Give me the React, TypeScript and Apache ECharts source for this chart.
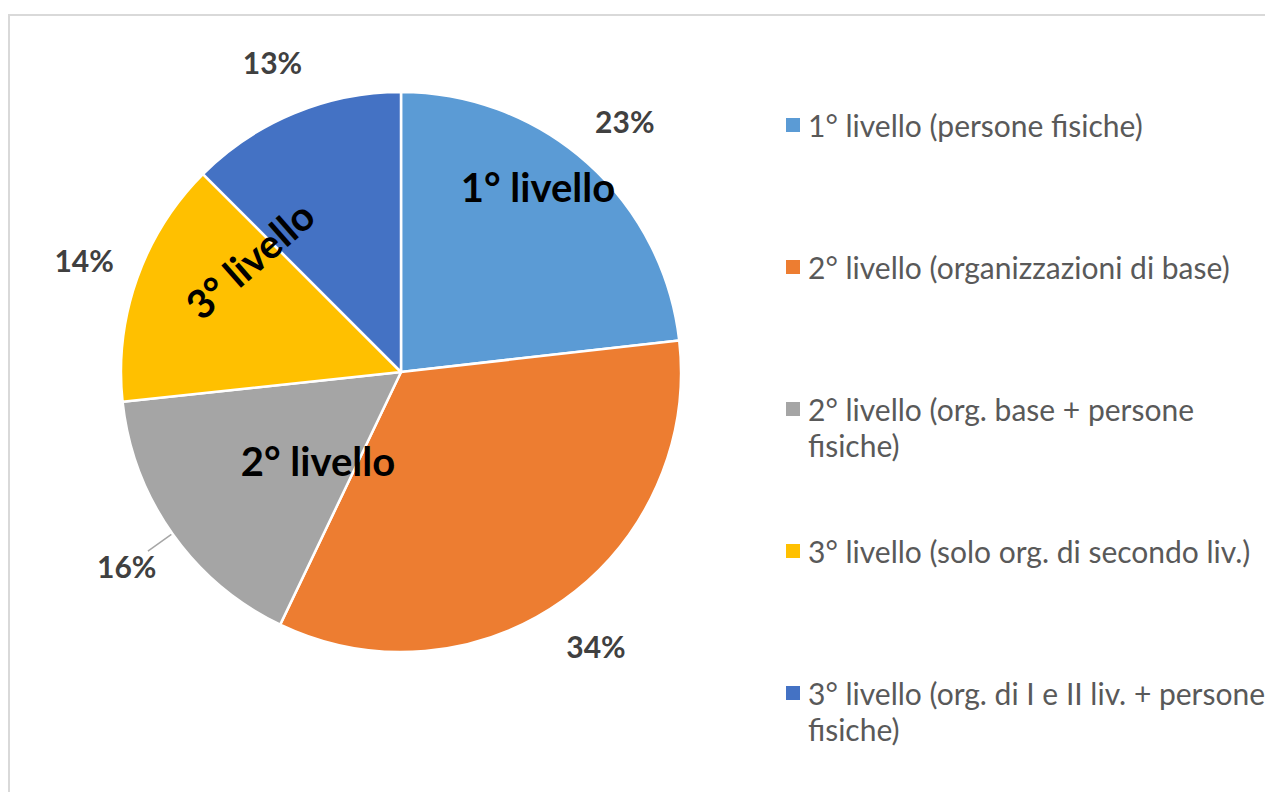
import React, { useEffect, useRef } from "react";
import * as echarts from "echarts";

const categories = [
  "1° livello (persone fisiche)",
  "2° livello (organizzazioni di base)",
  "2° livello (org. base + persone fisiche)",
  "3° livello (solo org. di secondo liv.)",
  "3° livello (org. di I e II liv. + persone fisiche)",
];
const legendLabels = [
  "1° livello (persone fisiche)",
  "2° livello (organizzazioni di base)",
  "2° livello (org. base + persone\nfisiche)",
  "3° livello (solo org. di secondo liv.)",
  "3° livello (org. di I e II liv. + persone\nfisiche)",
];
const values = [23.2, 33.9, 16.2, 14.2, 12.5];
const colors = ["#5B9BD5", "#ED7D31", "#A5A5A5", "#FFC000", "#4472C4"];
const annotations = ["1° livello", "2° livello", "3° livello"];
const leaderLineIndex = 2;

const FONT = "Lato, 'Open Sans', sans-serif";

export default function App() {
  const ref = useRef<HTMLDivElement>(null);
  useEffect(() => {
    if (!ref.current) return;
    const chart = echarts.init(ref.current, undefined, { renderer: "svg" });
    const center = [401, 372];
    const mainData = categories.map((name, i) => ({ name, value: values[i], itemStyle: { color: colors[i] } }));
    const ringData = categories.map((name, i) => ({ name, value: values[i] }));
    const lineData = categories.map((name, i) => {
      const item: any = { name, value: values[i] };
      if (i === leaderLineIndex) {
        item.label = { show: true, position: "outside", formatter: " ", fontSize: 1 };
        item.labelLine = { show: true, length: 30, length2: 0, lineStyle: { color: "#A6A6A6", width: 1.5 } };
      }
      return item;
    });

    const legendGraphics: any[] = [];
    legendLabels.forEach((t, i) => {
      legendGraphics.push({
        type: "rect",
        shape: { x: 786, y: 118 + i * 142, width: 14, height: 14 },
        style: { fill: colors[i] },
      });
      legendGraphics.push({
        type: "text",
        x: 808,
        y: 107 + i * 142,
        style: {
          text: t,
          fontSize: 30,
          fontFamily: FONT,
          fill: "#595959",
          lineHeight: 36,
          align: "left",
          verticalAlign: "top",
        },
      });
    });

    const bigText = (text: string, x: number, y: number, rotation = 0) => ({
      type: "text",
      x,
      y,
      rotation,
      z: 100,
      style: { text, fontSize: 40, fontWeight: "bold", fontFamily: FONT, fill: "#000", align: "center", verticalAlign: "middle" },
    });

    const option: any = {
      animation: false,
      backgroundColor: "#fff",
      graphic: [
        {
          type: "rect",
          shape: { x: 9, y: 15, width: 1300, height: 800 },
          style: { fill: "none", stroke: "#D9D9D9", lineWidth: 2 },
          z: -10,
        },
        ...legendGraphics,
        bigText(annotations[0], 538, 187),
        bigText(annotations[1], 318, 461),
        bigText(annotations[2], 250, 260, 0.72),
      ],
      series: [
        {
          type: "pie",
          center,
          radius: 280,
          startAngle: 90,
          clockwise: true,
          emphasis: { disabled: true },
          itemStyle: { borderColor: "#fff", borderWidth: 2.5 },
          label: { show: false },
          labelLine: { show: false },
          data: mainData,
        },
        {
          type: "pie",
          center,
          radius: [306, 360],
          startAngle: 90,
          clockwise: true,
          silent: true,
          avoidLabelOverlap: false,
          emphasis: { disabled: true },
          itemStyle: { color: "transparent" },
          labelLayout: { hideOverlap: false },
          label: {
            show: true,
            position: "inside",
            rotate: 0,
            formatter: (p: any) => Math.round(p.percent) + "%",
            fontSize: 30,
            fontWeight: "bold",
            fontFamily: FONT,
            color: "#404040",
          },
          labelLine: { show: false },
          data: ringData,
        },
        {
          type: "pie",
          center,
          radius: 280,
          startAngle: 90,
          clockwise: true,
          silent: true,
          avoidLabelOverlap: false,
          emphasis: { disabled: true },
          itemStyle: { color: "transparent" },
          label: { show: false },
          labelLine: { show: false },
          data: lineData,
        },
      ],
    };
    chart.setOption(option);
    return () => chart.dispose();
  }, []);
  return (
    <div
      ref={ref}
      style={{ position: "fixed", left: 0, top: 0, width: 1265, height: 792, background: "#fff" }}
    />
  );
}
